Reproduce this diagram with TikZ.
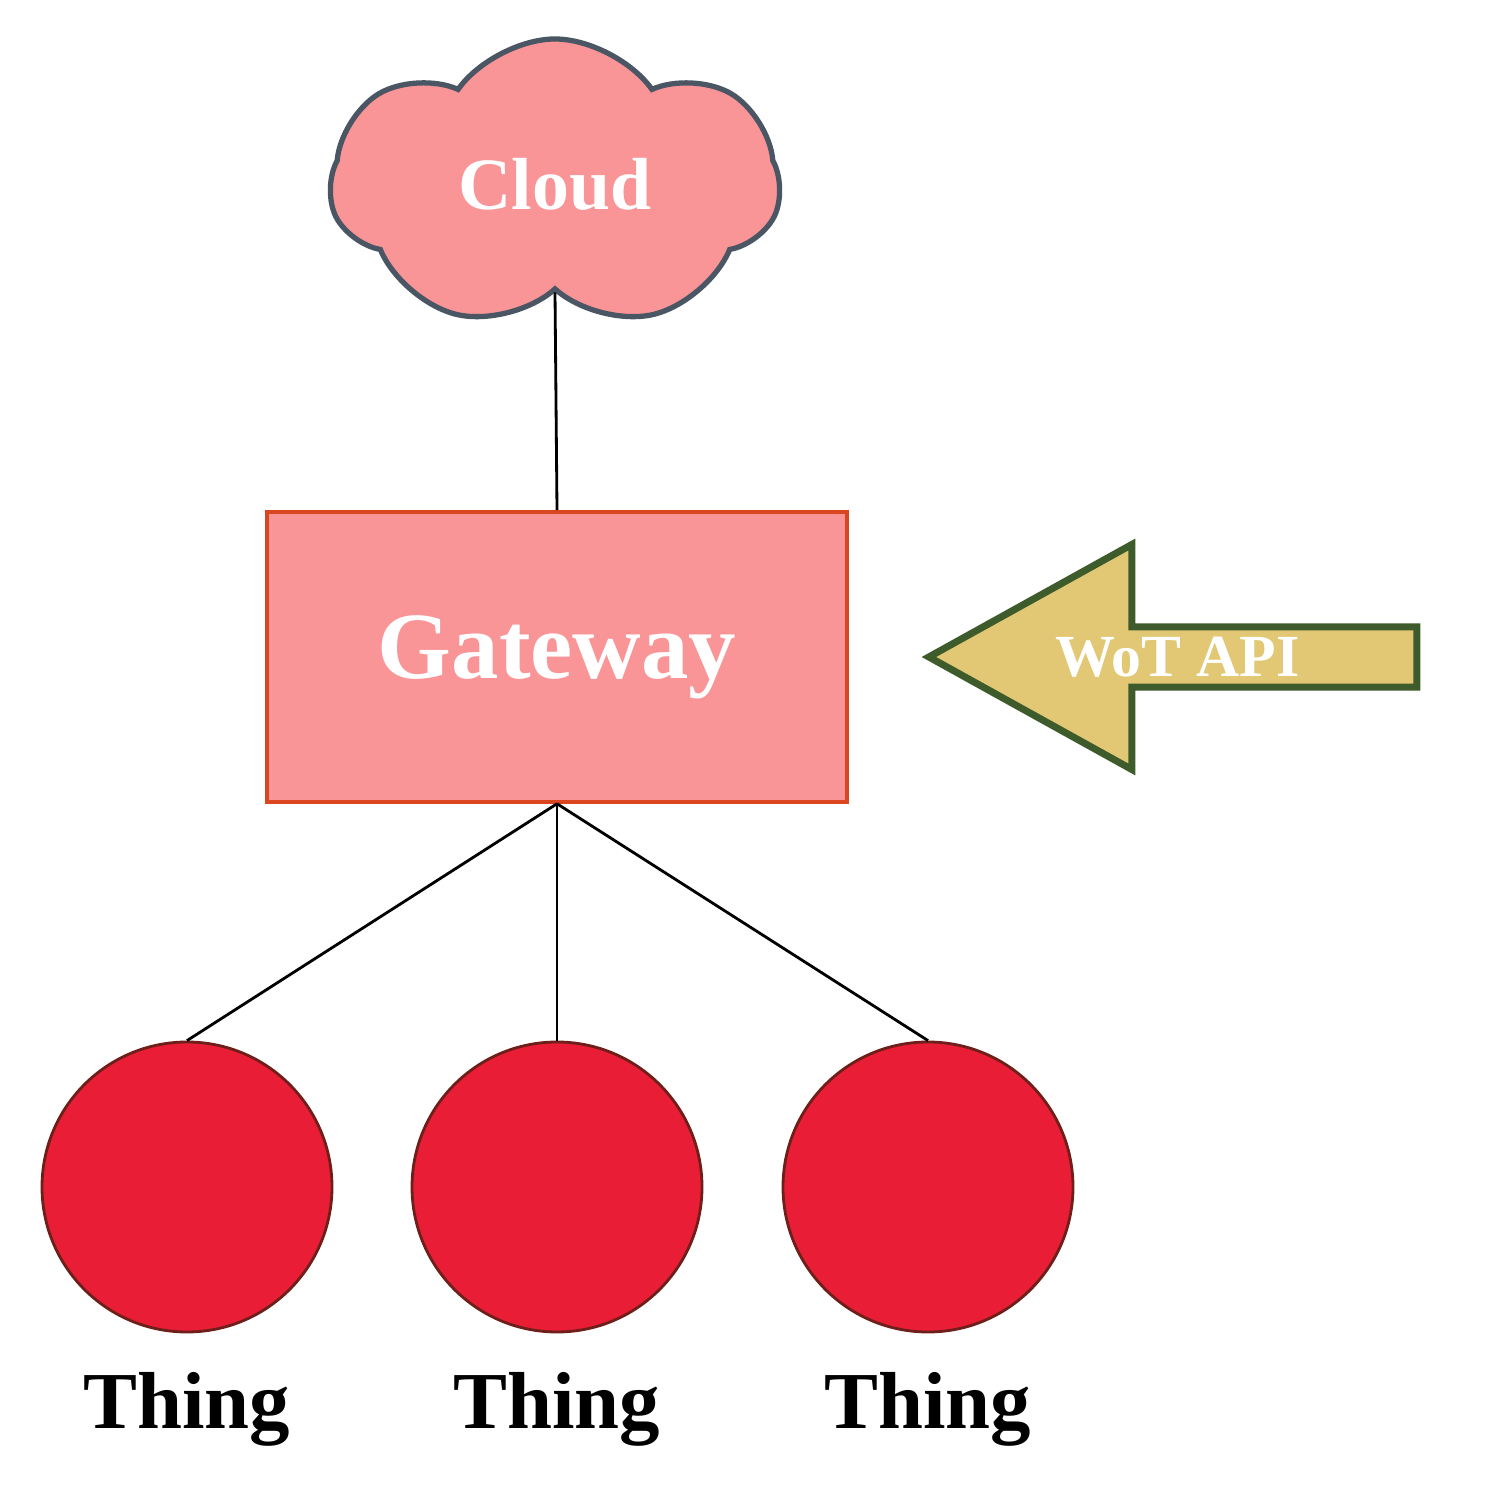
\documentclass[tikz,border=0pt]{standalone}
\usepackage{fontspec}
\setmainfont{Liberation Serif}
\usetikzlibrary{shapes.symbols,shapes.arrows}
\definecolor{pinkfill}{HTML}{F99497}
\definecolor{gwline}{HTML}{D9461F}
\definecolor{cloudline}{HTML}{4A5663}
\definecolor{thingfill}{HTML}{E91D36}
\definecolor{thingline}{HTML}{6E1F1A}
\definecolor{apifill}{HTML}{E2C874}
\definecolor{apiline}{HTML}{3E5B2B}
\begin{document}
\begin{tikzpicture}[
            cloudnode/.style={cloud, cloud puffs=7, cloud puff arc=110, aspect=1.6, draw=cloudline, line width=1.5pt, fill=pinkfill, minimum width=4.5cm, minimum height=2.9cm, text=white, font=\bfseries\fontsize{21}{24}\selectfont},
            gateway/.style={rectangle, draw=gwline, line width=1pt, fill=pinkfill, minimum width=5.8cm, minimum height=2.9cm, text=white, font=\bfseries\fontsize{27}{30}\selectfont},
            thing/.style={circle, draw=thingline, line width=0.8pt, fill=thingfill, minimum size=2.9cm},
            label/.style={font=\bfseries\fontsize{23}{26}\selectfont},
            api/.style={single arrow, shape border rotate=180, single arrow tip angle=58, single arrow head extend=0.65cm, draw=apiline, line width=2pt, fill=apifill, minimum width=2.25cm, minimum height=4.88cm, inner sep=0pt, text=white, font=\bfseries\fontsize{17}{20}\selectfont}
        ]
        \useasboundingbox (0,0) rectangle (14.9,14.84);

        % Cloud and gateway
        \node[cloudnode] (cloud) at (5.55,13.0) {Cloud};
        \node[gateway] (gw) at (5.57,8.27) {Gateway};
        \node[api] (wot) at (12.0,8.27) {\hspace*{-0.45cm}WoT API};

        % Things
        \node[thing] (t1) at (1.87,2.97) {};
        \node[thing] (t2) at (5.57,2.97) {};
        \node[thing] (t3) at (9.28,2.97) {};
        \node[label] (l1) at (1.87,0.75) {Thing};
        \node[label] (l2) at (5.57,0.75) {Thing};
        \node[label] (l3) at (9.28,0.75) {Thing};

        % Connections
        \draw[thick] (cloud.south) -- (gw.north);
        \draw[thick] (gw.south) -- (t1.north);
        \draw[thick] (gw.south) -- (t2.north);
        \draw[thick] (gw.south) -- (t3.north);

    \end{tikzpicture}
\end{document}
